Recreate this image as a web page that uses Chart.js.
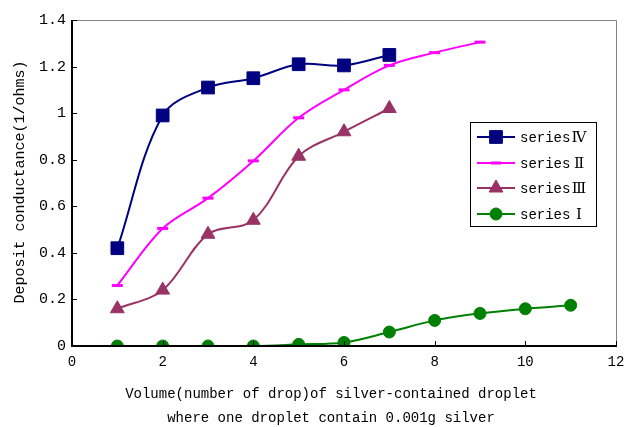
<!DOCTYPE html>
<html>
<head>
<meta charset="utf-8">
<script src="https://cdn.jsdelivr.net/npm/chart.js@4"></script>
<style>
  html, body { margin: 0; padding: 0; background: #fff; }
  #wrap { width: 626px; height: 427px; }
</style>
</head>
<body>
<div id="wrap"><canvas id="chart" width="626" height="427"></canvas></div>
<script>
// data
const drops = [1, 2, 3, 4, 5, 6, 7, 8, 9, 10, 11];
const series4 = [0.42, 0.99, 1.11, 1.15, 1.21, 1.205, 1.25];
const series2 = [0.26, 0.505, 0.635, 0.795, 0.98, 1.10, 1.205, 1.26, 1.305];
const series3 = [0.16, 0.24, 0.48, 0.54, 0.815, 0.92, 1.02];
const series1 = [0, 0, 0, 0, 0.007, 0.015, 0.06, 0.11, 0.14, 0.16, 0.175];
const seriesNames = ['\u2163', '\u2161', '\u2162', '\u2160'];
const xTitle = ['Volume(number of drop)of silver-contained droplet',
                'where one droplet contain 0.001g silver'];
const yTitle = 'Deposit conductance(1/ohms)';

const FONT = "'Liberation Mono', 'DejaVu Sans Mono', monospace";
const ROMAN = "'DejaVu Serif', 'Noto Sans CJK SC', serif";

function pts(vals) {
    return vals.map((v, i) => ({ x: drops[i], y: v }));
}

const sets = [
    { label: 'series' + seriesNames[0], data: pts(series4), color: '#000080', style: 'rect', radius: 9 },
    { label: 'series' + seriesNames[1], data: pts(series2), color: '#FF00FF', style: 'line', radius: 5.5 },
    { label: 'series' + seriesNames[2], data: pts(series3), color: '#993366', style: 'triangle', radius: 8 },
    { label: 'series' + seriesNames[3], data: pts(series1), color: '#008000', style: 'circle', radius: 6 }
];

// frame, inward ticks, axis titles and the boxed legend
const extras = {
    id: 'extras',
    afterDraw(chart) {
        const ctx = chart.ctx;
        const a = chart.chartArea;
        const xs = chart.scales.x, ys = chart.scales.y;
        ctx.save();
        ctx.lineWidth = 1;
        ctx.strokeStyle = '#808080';
        ctx.beginPath();
        ctx.moveTo(a.left, a.top + 0.5);
        ctx.lineTo(a.right + 0.5, a.top + 0.5);
        ctx.lineTo(a.right + 0.5, a.bottom);
        ctx.stroke();
        ctx.strokeStyle = '#000';
        ctx.lineWidth = 2;
        ctx.beginPath();
        ctx.moveTo(a.left, a.top);
        ctx.lineTo(a.left, a.bottom);
        ctx.lineTo(a.right + 1, a.bottom);
        ctx.stroke();
        ctx.lineWidth = 1;
        ctx.beginPath();
        ys.ticks.forEach(t => {
            const p = Math.round(ys.getPixelForValue(t.value)) + 0.5;
            ctx.moveTo(a.left, p);
            ctx.lineTo(a.left + 5, p);
        });
        xs.ticks.forEach(t => {
            const p = Math.round(xs.getPixelForValue(t.value)) + 0.5;
            ctx.moveTo(p, a.bottom);
            ctx.lineTo(p, a.bottom - 5);
        });
        ctx.stroke();

        ctx.fillStyle = '#000';
        ctx.font = '14px ' + FONT;
        ctx.textAlign = 'center';
        ctx.textBaseline = 'middle';
        ctx.fillText(xTitle[0], 331, 394);
        ctx.fillText(xTitle[1], 331, 418);
        ctx.save();
        ctx.translate(20, 182);
        ctx.rotate(-Math.PI / 2);
        ctx.font = '15px ' + FONT;
        ctx.fillText(yTitle, 0, 0);
        ctx.restore();

        // legend box
        const lx = 470, ly = 122, lw = 126, lh = 104;
        ctx.strokeStyle = '#000';
        ctx.lineWidth = 1;
        ctx.fillStyle = '#fff';
        ctx.fillRect(lx, ly, lw, lh);
        ctx.strokeRect(lx + 0.5, ly + 0.5, lw, lh);
        const rows = [137, 163, 188, 214];
        sets.forEach((s, i) => {
            const y = rows[i];
            ctx.strokeStyle = s.color;
            ctx.lineWidth = 2;
            ctx.beginPath();
            ctx.moveTo(477, y);
            ctx.lineTo(515, y);
            ctx.stroke();
            ctx.lineWidth = 1;
            ctx.fillStyle = s.color;
            Chart.helpers.drawPoint(ctx, {
                pointStyle: s.style, radius: s.radius, rotation: 0,
                borderWidth: s.style === 'line' ? 3 : 1
            }, 496, y);
            if (s.style === 'line') {
                ctx.lineWidth = 3;
                ctx.beginPath();
                ctx.moveTo(491, y);
                ctx.lineTo(501, y);
                ctx.stroke();
            }
            ctx.fillStyle = '#000';
            ctx.textAlign = 'left';
            ctx.font = '14px ' + FONT;
            ctx.fillText('series', 520, y + 1);
            ctx.textAlign = 'center';
            ctx.font = '15px ' + ROMAN;
            ctx.fillText(seriesNames[i], 579, y + 1);
        });
        ctx.restore();
    }
};

new Chart(document.getElementById('chart'), {
    type: 'line',
    data: {
        datasets: sets.map(s => ({
            label: s.label,
            data: s.data,
            borderColor: s.color,
            backgroundColor: s.color,
            borderWidth: 2,
            pointStyle: s.style,
            pointRadius: s.radius,
            pointBorderWidth: s.style === 'line' ? 3 : 1,
            tension: 0.35,
            fill: false
        }))
    },
    options: {
        responsive: false,
        animation: false,
        layout: { padding: { left: 0, top: 20, right: 0, bottom: 0 } },
        plugins: {
            legend: { display: false },
            tooltip: { enabled: false }
        },
        scales: {
            x: {
                type: 'linear',
                min: 0,
                max: 12,
                ticks: { stepSize: 2, color: '#000', padding: 8, font: { family: FONT, size: 14 } },
                grid: { drawOnChartArea: false, drawTicks: false },
                border: { display: false },
                afterFit(scale) { scale.height = 81; scale.paddingRight = 8; }
            },
            y: {
                min: 0,
                max: 1.4,
                ticks: {
                    stepSize: 0.2, color: '#000', padding: 6,
                    font: { family: FONT, size: 15 },
                    callback: v => String(Math.round(v * 10) / 10)
                },
                grid: { drawOnChartArea: false, drawTicks: false },
                border: { display: false },
                afterFit(scale) { scale.width = 72; }
            }
        }
    },
    plugins: [extras]
});
</script>
</body>
</html>
